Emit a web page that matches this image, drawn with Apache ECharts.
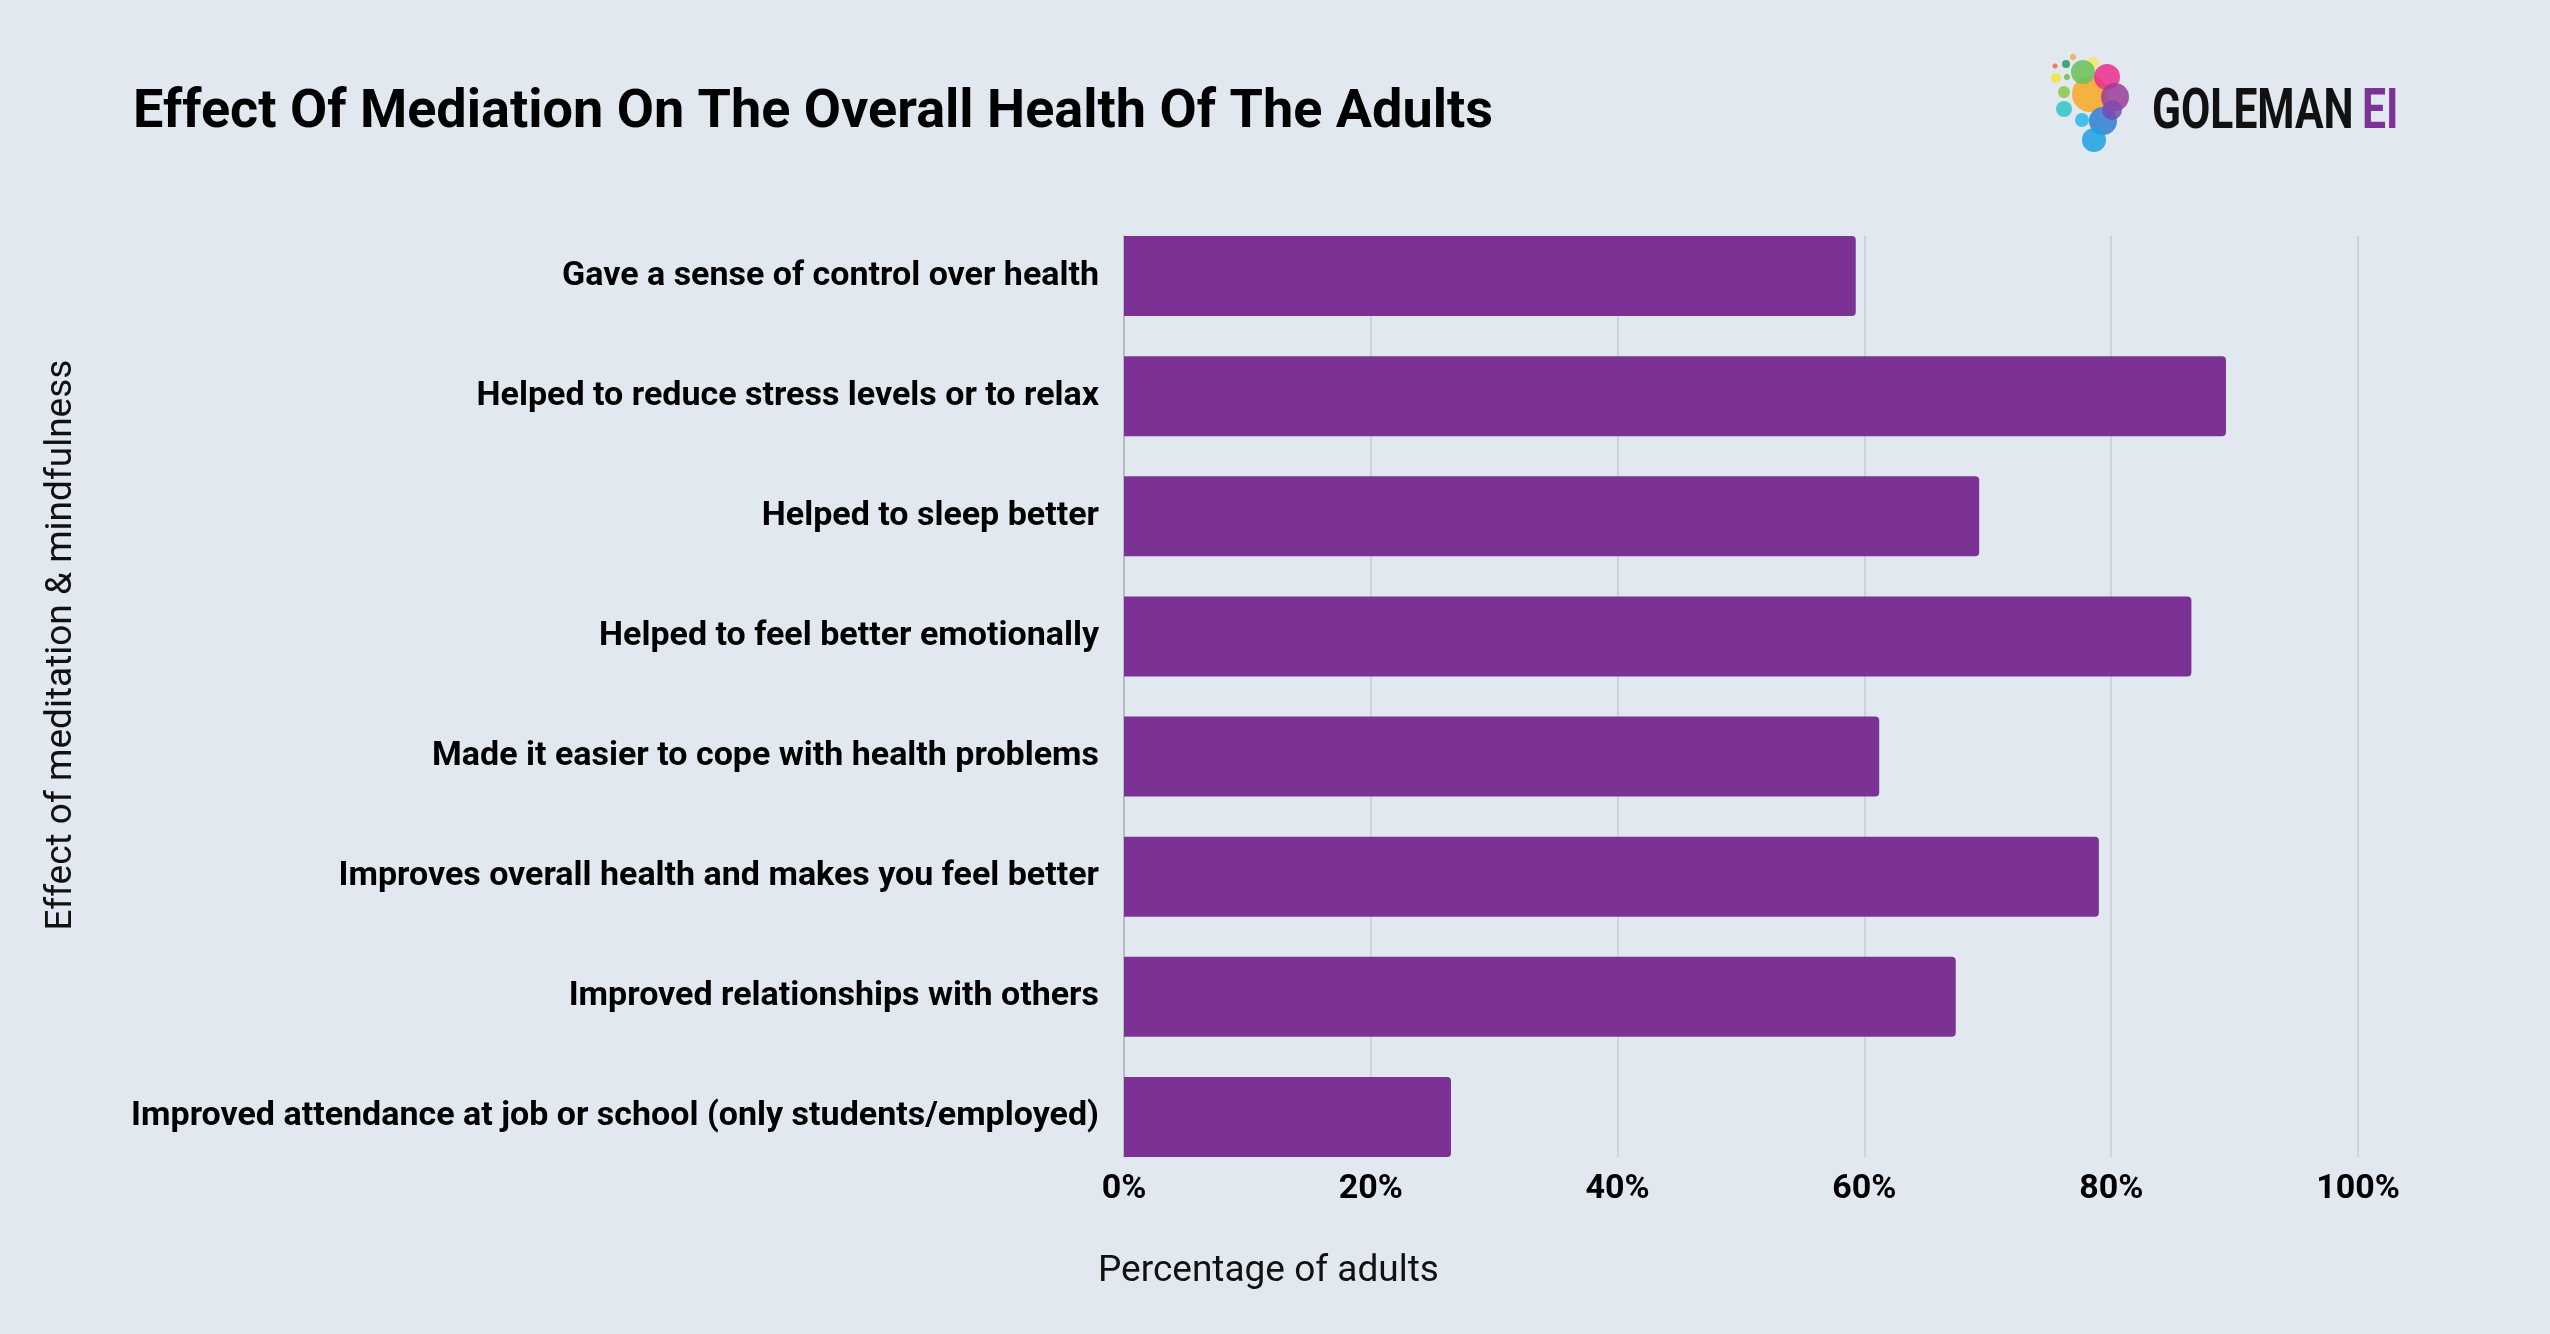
<!DOCTYPE html>
<html>
<head>
<meta charset="utf-8">
<script src="https://cdn.jsdelivr.net/npm/echarts@6/dist/echarts.min.js"></script>
<style>
html,body{margin:0;padding:0;background:#E2E8F0;}
#c{width:2550px;height:1334px;}
</style>
</head>
<body>
<div id="c"></div>
<script>
const categories = [
  "Gave a sense of control over health",
  "Helped to reduce stress levels or to relax",
  "Helped to sleep better",
  "Helped to feel better emotionally",
  "Made it easier to cope with health problems",
  "Improves overall health and makes you feel better",
  "Improved relationships with others",
  "Improved attendance at job or school (only students/employed)"
];
const values = [59.3, 89.3, 69.3, 86.5, 61.2, 79.0, 67.4, 26.5];
const xTicks = [0, 20, 40, 60, 80, 100];

const titleText = "Effect Of Mediation On The Overall Health Of The Adults";
const xName = "Percentage of adults";
const yName = "Effect of meditation & mindfulness";

const chart = echarts.init(document.getElementById('c'), null, {renderer: 'canvas'});

const dots = [
  [2055,66,2.5,'#F26B3A'],[2066,64,4,'#1E9E5A'],[2073,57,3,'#F6A93B'],
  [2056,78,5,'#F3E03B'],[2067,77,3,'#6CC04A'],[2064,92,6,'#8CC63F'],
  [2093,63,6,'#F5E663'],[2090,94,18,'#F7A823'],[2083,72,12,'#6BBF59'],
  [2107,77,13,'#EC2A8C'],[2115,97,14,'#9B3C98'],[2064,109,8,'#2EC4C4'],
  [2082,120,7,'#29B6E8'],[2103,121,14,'#2F7FD1'],[2094,140,12,'#1BA1E2'],
  [2112,110,10,'#7A4AAE']
];

chart.setOption({
  backgroundColor: '#E2E8F0',
  animation: false,
  title: {
    text: titleText,
    left: 128, top: 81,
    textStyle: {fontFamily: 'Roboto', fontWeight: 'bold', fontSize: 54, color: '#000'}
  },
  grid: [
    {left: 1124, right: 192, top: 216, bottom: 157, containLabel: false},
    {left: 1124, right: 192, top: 236, bottom: 177, containLabel: false}
  ],
  xAxis: [
    {gridIndex: 0, type: 'value', min: 0, max: 100, interval: 20,
     axisLine: {show: false}, axisTick: {show: false}, axisLabel: {show: false}, splitLine: {show: false}},
    {gridIndex: 1, type: 'value', min: 0, max: 100, interval: 20,
     axisLine: {show: false}, axisTick: {show: false},
     splitLine: {show: true, lineStyle: {color: '#C7CCD5', width: 1.5}},
     axisLabel: {show: true, margin: 15, fontFamily: 'Roboto', fontWeight: 'bold', fontSize: 34, color: '#000',
       formatter: v => xTicks.includes(v) ? v + '%' : ''}}
  ],
  yAxis: [
    {gridIndex: 0, type: 'category', data: categories, inverse: true,
     axisLine: {show: false}, axisTick: {show: false},
     axisLabel: {margin: 25, fontFamily: 'Roboto', fontWeight: 'bold', fontSize: 34, color: '#000'}},
    {gridIndex: 1, type: 'value', min: 0, max: 1, show: true,
     axisLine: {show: true, lineStyle: {color: '#AEB3BC', width: 1.5}},
     axisTick: {show: false}, axisLabel: {show: false}, splitLine: {show: false}}
  ],
  series: [{
    type: 'bar', xAxisIndex: 0, yAxisIndex: 0,
    data: values, barCategoryGap: '33.3%', z: 3,
    itemStyle: {color: '#7B3294', borderRadius: [0, 4, 4, 0]}
  }],
  graphic: [
    {type: 'text', left: 1098, top: 1253,
     style: {text: xName, fontFamily: 'Roboto', fontSize: 37, fill: '#111'}},
    {type: 'text', x: 62, y: 645, rotation: Math.PI / 2,
     style: {text: yName, fontFamily: 'Roboto', fontSize: 37, fill: '#111', align: 'center', verticalAlign: 'middle'}},
    ...dots.map(d => ({type: 'circle', shape: {cx: d[0], cy: d[1], r: d[2]}, style: {fill: d[3], opacity: 0.85}})),
    {type: 'text', x: 2152, y: 114, scaleX: 0.76,
     style: {text: 'GOLEMAN', fontFamily: 'Roboto', fontWeight: 'bold',
       fontSize: 56, fill: '#111', verticalAlign: 'middle', align: 'left'}},
    {type: 'text', x: 2362, y: 114, scaleX: 0.76,
     style: {text: 'EI', fontFamily: 'Roboto', fontWeight: 'bold',
       fontSize: 56, fill: '#7B3294', verticalAlign: 'middle', align: 'left'}}
  ]
});
</script>
</body>
</html>
